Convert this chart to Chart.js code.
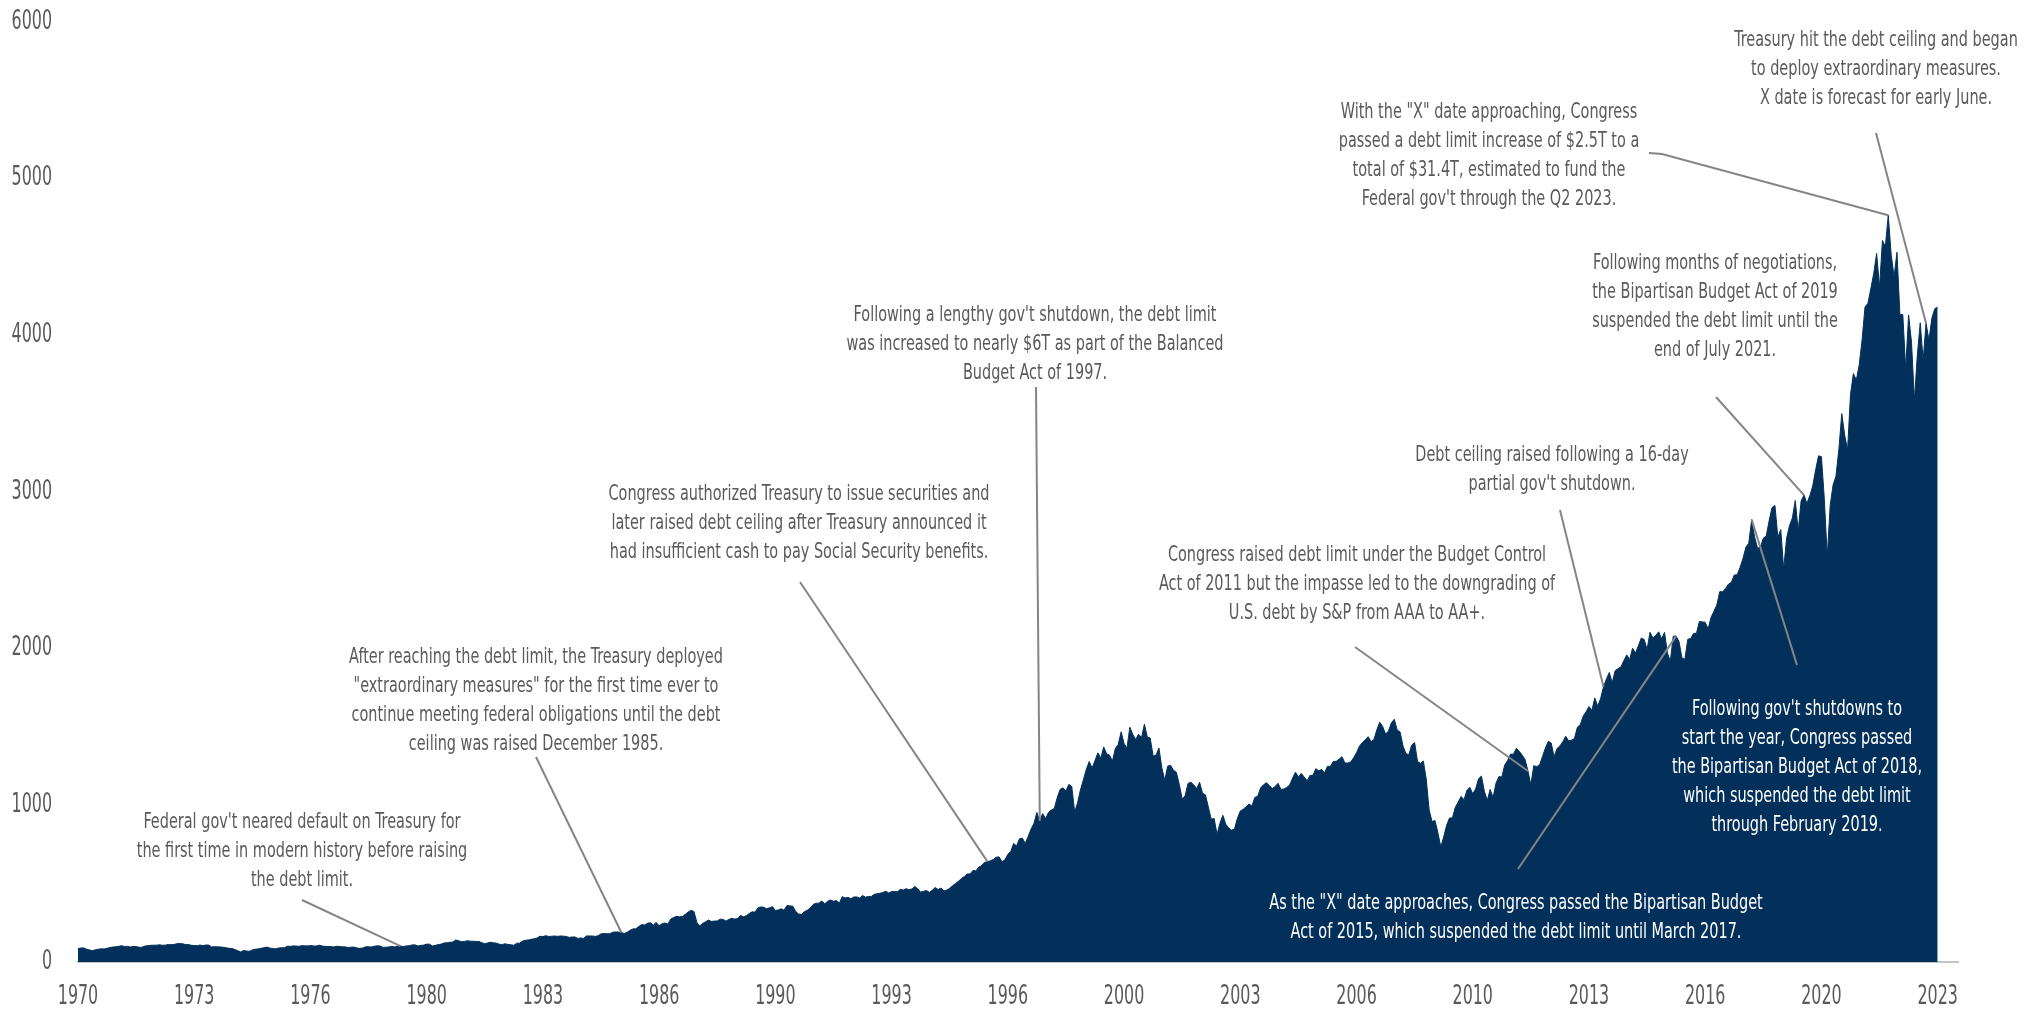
<!DOCTYPE html>
<html>
<head>
<meta charset="utf-8">
<script src="https://cdn.jsdelivr.net/npm/chart.js@4.4.0/dist/chart.umd.min.js"></script>
<style>
  html, body { margin: 0; padding: 0; background: #fff; }
</style>
</head>
<body>
<canvas id="spx" width="2038" height="1009"></canvas>
<script>
// S&P 500 month-end closes, Jan 1970 .. May 2023
const spx1970s = [
  85.0, 89.5, 89.6, 81.5, 76.6, 72.7, 78.1, 81.5, 84.2, 83.3, 87.2, 92.2,
  95.9, 96.8, 100.3, 104.0, 99.6, 99.7, 95.6, 99.0, 98.3, 94.2, 94.0, 102.1,
  103.9, 106.6, 107.2, 107.7, 109.5, 107.1, 107.4, 111.1, 110.6, 111.6, 116.7, 118.1,
  116.0, 111.7, 111.5, 107.0, 105.0, 104.3, 108.2, 104.3, 108.4, 108.3, 96.0, 97.6,
  96.6, 96.2, 94.0, 90.3, 87.3, 86.0, 79.3, 72.2, 63.5, 73.9, 70.0, 68.6,
  77.0, 81.6, 83.4, 87.3, 91.2, 95.2, 88.8, 86.9, 83.9, 89.0, 91.2, 90.2,
  100.9, 99.7, 102.8, 101.6, 100.2, 104.3, 103.4, 102.9, 105.2, 102.9, 102.1, 107.5,
  102.0, 99.8, 98.4, 98.4, 96.1, 100.5, 98.9, 96.8, 96.5, 92.3, 94.8, 95.1,
  89.3, 87.0, 89.2, 96.8, 97.2, 95.5, 100.7, 103.3, 102.5, 93.2, 94.7, 96.1,
  99.9, 96.3, 101.6, 101.8, 99.1, 102.9, 103.8, 109.3, 109.3, 101.8, 106.2, 107.9
];
const spx1980s = [
  114.2, 113.7, 102.1, 106.3, 111.2, 114.2, 121.7, 122.4, 125.5, 127.5, 140.5, 135.8,
  129.6, 131.3, 136.0, 132.8, 132.6, 131.2, 130.9, 122.8, 116.2, 121.9, 126.4, 122.6,
  120.4, 113.1, 112.0, 116.4, 111.9, 109.6, 107.1, 119.5, 120.4, 133.7, 138.5, 140.6,
  145.3, 148.1, 153.0, 164.4, 162.4, 168.1, 162.6, 164.4, 166.1, 163.6, 166.4, 164.9,
  163.4, 157.1, 159.2, 160.1, 150.6, 153.2, 150.7, 166.7, 166.1, 166.1, 163.6, 167.2,
  179.6, 181.2, 180.7, 179.8, 189.6, 191.9, 190.9, 188.6, 182.1, 189.8, 202.2, 211.3,
  211.8, 226.9, 238.9, 235.5, 247.4, 250.8, 236.1, 252.9, 231.3, 244.0, 249.2, 242.2,
  274.1, 284.2, 291.7, 288.4, 290.1, 304.0, 318.7, 329.8, 321.8, 251.8, 230.3, 247.1,
  257.1, 267.8, 258.9, 261.3, 262.2, 273.5, 272.0, 261.5, 271.9, 279.0, 273.7, 277.7,
  297.5, 288.9, 294.9, 309.6, 320.5, 318.0, 346.1, 351.5, 349.2, 340.4, 346.0, 353.4
];
const spx1990s = [
  329.1, 331.9, 339.9, 330.8, 361.2, 358.0, 356.2, 322.6, 306.1, 304.0, 322.2, 330.2,
  343.9, 367.1, 375.2, 375.4, 389.8, 371.2, 387.8, 395.4, 387.9, 392.5, 375.2, 417.1,
  408.8, 412.7, 403.7, 415.0, 415.4, 408.1, 424.2, 414.0, 417.8, 418.7, 431.4, 435.7,
  438.8, 443.4, 451.7, 440.2, 450.2, 450.5, 448.1, 463.6, 458.9, 467.8, 461.8, 466.5,
  481.6, 467.1, 445.8, 450.9, 456.5, 444.3, 458.3, 475.5, 462.7, 472.4, 453.7, 459.3,
  470.4, 487.4, 500.7, 514.7, 533.4, 544.8, 562.1, 561.9, 584.4, 581.5, 605.4, 615.9,
  636.0, 640.4, 645.5, 654.2, 669.1, 670.6, 640.0, 652.0, 687.3, 705.3, 757.0, 740.7,
  786.2, 790.8, 757.1, 801.3, 848.3, 885.1, 954.3, 899.5, 947.3, 914.6, 955.4, 970.4,
  980.3, 1049.3, 1101.8, 1111.8, 1090.8, 1133.8, 1120.7, 957.3, 1017.0, 1098.7, 1163.6, 1229.2,
  1279.6, 1238.3, 1286.4, 1335.2, 1301.8, 1372.7, 1328.7, 1320.4, 1282.7, 1362.9, 1388.9, 1469.3
];
const spx2000s = [
  1394.5, 1366.4, 1498.6, 1452.4, 1420.6, 1454.6, 1430.8, 1517.7, 1436.5, 1429.4, 1315.0, 1320.3,
  1366.0, 1239.9, 1160.3, 1249.5, 1255.8, 1224.4, 1211.2, 1133.6, 1040.9, 1059.8, 1139.5, 1148.1,
  1130.2, 1106.7, 1147.4, 1076.9, 1067.1, 989.8, 911.6, 916.1, 815.3, 885.8, 936.3, 879.8,
  855.7, 841.2, 848.2, 916.9, 963.6, 974.5, 990.3, 1008.0, 996.0, 1050.7, 1058.2, 1111.9,
  1131.1, 1144.9, 1126.2, 1107.3, 1120.7, 1140.8, 1101.7, 1104.2, 1114.6, 1130.2, 1173.8, 1211.9,
  1181.3, 1203.6, 1180.6, 1156.9, 1191.5, 1191.3, 1234.2, 1220.3, 1228.8, 1207.0, 1249.5, 1248.3,
  1280.1, 1280.7, 1294.8, 1310.6, 1270.1, 1270.2, 1276.7, 1303.8, 1335.9, 1377.9, 1400.6, 1418.3,
  1438.2, 1406.8, 1420.9, 1482.4, 1530.6, 1503.4, 1455.3, 1474.0, 1526.8, 1549.4, 1481.1, 1468.4,
  1378.6, 1330.6, 1322.7, 1385.6, 1400.4, 1280.0, 1267.4, 1282.8, 1166.4, 968.8, 896.2, 903.3,
  825.9, 735.1, 797.9, 872.8, 919.1, 919.3, 987.5, 1020.6, 1057.1, 1036.2, 1095.6, 1115.1
];
const spx2010s = [
  1073.9, 1104.5, 1169.4, 1186.7, 1089.4, 1030.7, 1101.6, 1049.3, 1141.2, 1183.3, 1180.6, 1257.6,
  1286.1, 1327.2, 1325.8, 1363.6, 1345.2, 1320.6, 1292.3, 1218.9, 1131.4, 1253.3, 1247.0, 1257.6,
  1312.4, 1365.7, 1408.5, 1397.9, 1310.3, 1362.2, 1379.3, 1406.6, 1440.7, 1412.2, 1416.2, 1426.2,
  1498.1, 1514.7, 1569.2, 1597.6, 1630.7, 1606.3, 1685.7, 1633.0, 1681.6, 1756.5, 1805.8, 1848.4,
  1782.6, 1859.5, 1872.3, 1884.0, 1923.6, 1960.2, 1930.7, 2003.4, 1972.3, 2018.1, 2067.6, 2058.9,
  1995.0, 2104.5, 2067.9, 2085.5, 2107.4, 2063.1, 2103.8, 1972.2, 1920.0, 2079.4, 2080.4, 2043.9,
  1940.2, 1932.2, 2059.7, 2065.3, 2097.0, 2098.9, 2173.6, 2171.0, 2168.3, 2126.2, 2198.8, 2238.8,
  2278.9, 2363.6, 2362.7, 2384.2, 2411.8, 2423.4, 2470.3, 2471.7, 2519.4, 2575.3, 2647.6, 2673.6,
  2823.8, 2713.8, 2640.9, 2648.1, 2705.3, 2718.4, 2816.3, 2901.5, 2914.0, 2711.7, 2760.2, 2506.9,
  2704.1, 2784.5, 2834.4, 2945.8, 2752.1, 2941.8, 2980.4, 2926.5, 2976.7, 3037.6, 3141.0, 3230.8
];
const spx2020s = [
  3225.5, 2954.2, 2584.6, 2912.4, 3044.3, 3100.3, 3271.1, 3500.3, 3363.0, 3270.0, 3621.6, 3756.1,
  3714.2, 3811.2, 3972.9, 4181.2, 4204.1, 4297.5, 4395.3, 4522.7, 4307.5, 4605.4, 4567.0, 4766.2,
  4515.6, 4373.9, 4530.4, 4131.9, 4132.2, 3785.4, 4130.3, 3955.0, 3585.6, 3872.0, 4080.1, 3839.5,
  4076.6, 3970.2, 4109.3, 4169.5, 4179.8
];
const yearTicks = ['1970', '1973', '1976', '1980', '1983', '1986', '1990', '1993', '1996',
                   '2000', '2003', '2006', '2010', '2013', '2016', '2020', '2023'];
const valueTicks = [0, 1000, 2000, 3000, 4000, 5000, 6000];

const closes = [].concat(spx1970s, spx1980s, spx1990s, spx2000s, spx2010s, spx2020s);
const lastMonth = closes.length - 1;
const tickStep = lastMonth / (yearTicks.length - 1);

const navy = '#02305a';
const grey = '#5a5a5a';
const leaderGrey = '#858585';
const family = "'Liberation Sans Narrow', 'DejaVu Sans Condensed', sans-serif";
const noteSqueeze = 0.73;
const tickSqueeze = 0.68;
const lineGap = 29;

// callouts: text block placement (px) and the month the leader points at
const notes = [
  { lines: ["Federal gov't neared default on Treasury for", 'the first time in modern history before raising', 'the debt limit.'],
    cx: 302, y: 822, from: [302, 900], month: 111 },
  { lines: ['After reaching the debt limit, the Treasury deployed', '"extraordinary measures" for the first time ever to',
            'continue meeting federal obligations until the debt', 'ceiling was raised December 1985.'],
    cx: 536, y: 657, from: [536, 757], month: 187 },
  { lines: ['Congress authorized Treasury to issue securities and', 'later raised debt ceiling after Treasury announced it',
            'had insufficient cash to pay Social Security benefits.'],
    cx: 799, y: 494, from: [800, 582], month: 313 },
  { lines: ["Following a lengthy gov't shutdown, the debt limit", 'was increased to nearly $6T as part of the Balanced', 'Budget Act of 1997.'],
    cx: 1035, y: 315, from: [1036, 387], month: 331 },
  { lines: ['Congress raised debt limit under the Budget Control', 'Act of 2011 but the impasse led to the downgrading of',
            'U.S. debt by S&P from AAA to AA+.'],
    cx: 1357, y: 555, from: [1355, 647], month: 499 },
  { lines: ['Debt ceiling raised following a 16-day', "partial gov't shutdown."],
    cx: 1552, y: 455, from: [1560, 510], month: 525 },
  { lines: ['As the "X" date approaches, Congress passed the Bipartisan Budget', 'Act of 2015, which suspended the debt limit until March 2017.'],
    cx: 1516, y: 903, from: [1518, 869], month: 550, white: true },
  { lines: ["Following gov't shutdowns to", 'start the year, Congress passed', 'the Bipartisan Budget Act of 2018,',
            'which suspended the debt limit', 'through February 2019.'],
    cx: 1797, y: 709, from: [1797, 665], month: 576, white: true },
  { lines: ['Following months of negotiations,', 'the Bipartisan Budget Act of 2019', 'suspended the debt limit until the', 'end of July 2021.'],
    cx: 1715, y: 263, from: [1716, 397], month: 594 },
  { lines: ['With the "X" date approaching, Congress', 'passed a debt limit increase of $2.5T to a',
            'total of $31.4T, estimated to fund the', "Federal gov't through the Q2 2023."],
    cx: 1489, y: 112, from: [1649, 153], via: [[1662, 154]], month: 623 },
  { lines: ['Treasury hit the debt ceiling and began', 'to deploy extraordinary measures.', 'X date is forecast for early June.'],
    cx: 1876, y: 40, from: [1876, 133], month: 636 }
];

function squeezedText(ctx, text, px, py, sx) {
  ctx.save();
  ctx.translate(px, py);
  ctx.scale(sx, 1);
  ctx.fillText(text, 0, 0);
  ctx.restore();
}

// narrow tick labels, placed from the scales' own ticks
const tickPlugin = {
  id: 'narrowTicks',
  afterDraw(chart) {
    const { ctx, scales: { x, y } } = chart;
    ctx.save();
    ctx.fillStyle = grey;
    ctx.font = '26px ' + family;
    ctx.textBaseline = 'middle';
    ctx.textAlign = 'center';
    x.ticks.forEach((t, i) => squeezedText(ctx, yearTicks[i], x.getPixelForValue(t.value), x.top + 35, tickSqueeze));
    ctx.textAlign = 'right';
    y.ticks.forEach(t => squeezedText(ctx, String(t.value), y.right - 26, y.getPixelForValue(t.value), tickSqueeze));
    ctx.restore();
  }
};

const notePlugin = {
  id: 'notes',
  afterDatasetsDraw(chart) {
    const { ctx, scales: { x, y } } = chart;
    ctx.save();
    ctx.lineWidth = 2;
    ctx.strokeStyle = leaderGrey;
    notes.forEach(n => {
      ctx.beginPath();
      ctx.moveTo(n.from[0], n.from[1]);
      (n.via || []).forEach(p => ctx.lineTo(p[0], p[1]));
      ctx.lineTo(x.getPixelForValue(n.month), y.getPixelForValue(closes[n.month]));
      ctx.stroke();
    });
    ctx.font = '22px ' + family;
    ctx.textAlign = 'center';
    ctx.textBaseline = 'middle';
    notes.forEach(n => {
      ctx.fillStyle = n.white ? '#ffffff' : grey;
      n.lines.forEach((t, k) => squeezedText(ctx, t, n.cx, n.y + k * lineGap, noteSqueeze));
    });
    ctx.restore();
  }
};

new Chart(document.getElementById('spx'), {
  type: 'line',
  data: {
    datasets: [{
      data: closes.map((v, i) => ({ x: i, y: v })),
      fill: 'origin',
      backgroundColor: navy,
      borderColor: navy,
      borderWidth: 1,
      pointRadius: 0,
      tension: 0
    }]
  },
  options: {
    responsive: false,
    devicePixelRatio: 1,
    animation: false,
    layout: { padding: { left: 0, top: 22, right: 80, bottom: 0 } },
    plugins: { legend: { display: false }, tooltip: { enabled: false } },
    scales: {
      x: {
        type: 'linear',
        min: 0,
        max: lastMonth + 7,
        grid: { display: false },
        border: { display: true, color: '#c4c4c4', width: 2 },
        afterBuildTicks: s => { s.ticks = yearTicks.map((_, i) => ({ value: i * tickStep })); },
        afterFit: s => { s.height = 47; },
        ticks: { display: false }
      },
      y: {
        min: 0,
        max: 6000,
        grid: { display: false },
        border: { display: false },
        afterBuildTicks: s => { s.ticks = valueTicks.map(v => ({ value: v })); },
        afterFit: s => { s.width = 78; },
        ticks: { display: false }
      }
    }
  },
  plugins: [notePlugin, tickPlugin]
});
</script>
</body>
</html>
